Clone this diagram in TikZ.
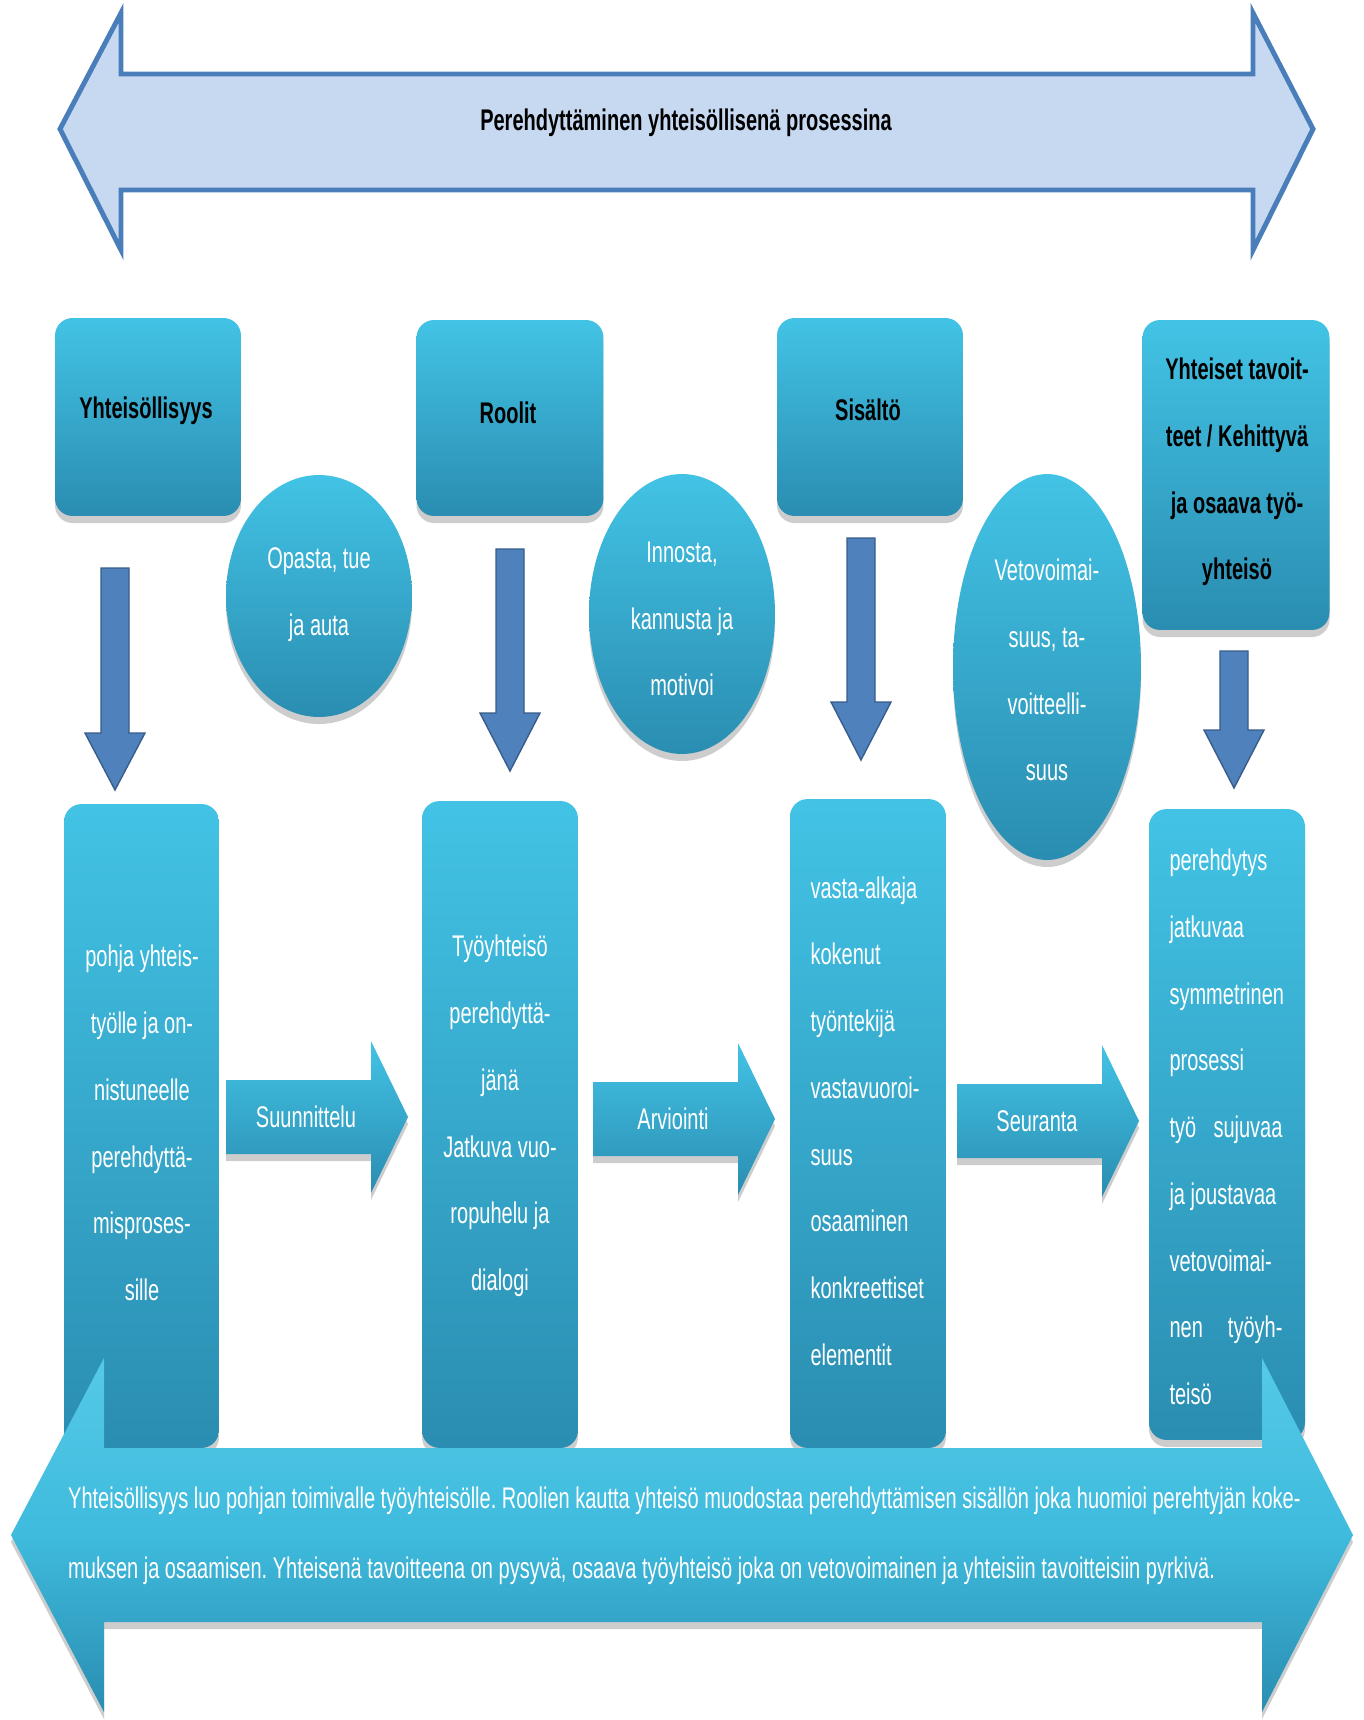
\documentclass[tikz,border=0pt]{standalone}
\usepackage{fontspec}
\setmainfont{Liberation Sans}[FakeStretch=0.67]
\usetikzlibrary{shapes.geometric,shadows}
\definecolor{cyL}{HTML}{42C3E5}
\definecolor{cyD}{HTML}{2A8DB1}
\definecolor{paleblue}{HTML}{C6D9F1}
\definecolor{strokeblue}{HTML}{4A7EBB}
\definecolor{arrblue}{HTML}{4F81BD}
\definecolor{arrdark}{HTML}{385D8A}
\frenchspacing
\begin{document}
\begin{tikzpicture}[x=0.02cm,y=-0.02cm,
  shad/.style={drop shadow={shadow xshift=0pt,shadow yshift=-4pt,opacity=0.28,fill=black!70}},
  box/.style={rectangle,rounded corners=0.35cm,top color=cyL,bottom color=cyD,draw=none,shad,inner sep=0pt},
  oval/.style={ellipse,top color=cyL,bottom color=cyD,draw=none,shad,inner sep=0pt},
  hdtxt/.style={font=\fontsize{17}{38}\selectfont\bfseries,text=black,align=center},
  wtxt/.style={font=\fontsize{17}{38}\selectfont,text=white},
  dnarrow/.style={fill=arrblue,draw=arrdark,line width=0.8pt},
  rtarrow/.style={top color=cyL,bottom color=cyD,draw=none,shad},
  longarrow/.style={top color=cyL!90!white,bottom color=cyD,middle color=cyL!85!cyD,draw=none,shad},
  bigarrow/.style={fill=paleblue,draw=strokeblue,line width=2.8pt,line join=miter}]
\useasboundingbox (0,0) rectangle (1364,1720);
\fill[white] (0,0) rectangle (1364,1720);

% top double arrow
\draw[bigarrow] (60,129) -- (121,13) -- (121,74) -- (1253,74) -- (1253,13) -- (1313,129)
  -- (1253,250) -- (1253,190) -- (121,190) -- (121,250) -- cycle;
\node[hdtxt] (title) at (686,123) {Perehdyttäminen yhteisöllisenä prosessina};

% top boxes
\node[box,minimum width=3.72cm,minimum height=3.96cm] (b1) at (148,417) {};
\node[hdtxt] (t1) at (146,411) {Yhteisöllisyys};
\node[box,minimum width=3.74cm,minimum height=3.92cm] (b2) at (510,418) {};
\node[hdtxt] (t2) at (508,413) {Roolit};
\node[box,minimum width=3.72cm,minimum height=3.96cm] (b3) at (870,417) {};
\node[hdtxt] (t3) at (868,410) {Sisältö};
\node[box,minimum width=3.74cm,minimum height=6.20cm] (b4) at (1236,475) {};
\node[hdtxt] (t4) at (1237,472) {Yhteiset tavoit-\\teet / Kehittyvä\\ja osaava työ-\\yhteisö};

% circles
\node[oval,minimum width=3.72cm,minimum height=4.84cm] (c1) at (319,596) {};
\node[wtxt,align=center] (ct1) at (319,595) {Opasta, tue\\ja auta};
\node[oval,minimum width=3.72cm,minimum height=5.60cm] (c2) at (682,614) {};
\node[wtxt,align=center] (ct2) at (682,619) {Innosta,\\kannusta ja\\motivoi};
\node[oval,minimum width=3.76cm,minimum height=7.72cm] (c3) at (1047,667) {};
\node[wtxt,align=center] (ct3) at (1047,670) {Vetovoimai-\\suus, ta-\\voitteelli-\\suus};

% down arrows
\foreach \cx/\ty/\hb/\tp in {115/568/733/790, 510/549/713/771, 861/538/702/760, 1234/651/730/788}
  \draw[dnarrow] (\cx-14,\ty) -- (\cx+14,\ty) -- (\cx+14,\hb) -- (\cx+30,\hb) -- (\cx,\tp)
    -- (\cx-30,\hb) -- (\cx-14,\hb) -- cycle;

% bottom boxes
\node[box,minimum width=3.10cm,minimum height=12.88cm] (d1) at (141.5,1126) {};
\node[wtxt,align=center] (dt1) at (142,1123) {pohja yhteis-\\työlle ja on-\\nistuneelle\\perehdyttä-\\misproses-\\sille};
\node[box,minimum width=3.12cm,minimum height=12.94cm] (d2) at (500,1124.5) {};
\node[wtxt,align=center] (dt2) at (500,1116) {Työyhteisö\\perehdyttä-\\jänä\\Jatkuva vuo-\\ropuhelu ja\\dialogi};
\node[box,minimum width=3.12cm,minimum height=12.98cm] (d3) at (868,1123.5) {};
\node[wtxt,align=flush left,text width=2.3cm] (dt3) at (868,1121) {vasta-alkaja\\kokenut\\työntekijä\\vastavuoroi-\\suus\\osaaminen\\konkreettiset\\elementit};
\node[box,minimum width=3.12cm,minimum height=12.62cm] (d4) at (1227,1124.5) {};
\node[wtxt,align=flush left,text width=2.26cm] (dt4) at (1226,1127) {perehdytys\\jatkuvaa\\symmetrinen\\prosessi\\työ\hfill sujuvaa\\ja joustavaa\\vetovoimai-\\nen\hfill työyh-\\teisö};

% right arrows
\foreach \sx/\cy/\nm/\lab in {226/1117/r1/Suunnittelu, 593/1119/r2/Arviointi, 957/1121/r3/Seuranta}{
  \path[rtarrow] (\sx,\cy-37) -- (\sx+145,\cy-37) -- (\sx+145,\cy-76) -- (\sx+182,\cy)
    -- (\sx+145,\cy+76) -- (\sx+145,\cy+37) -- (\sx,\cy+37) -- cycle;
  \node[wtxt] (\nm) at (\sx+80,\cy) {\lab};
}

% bottom double arrow
\path[longarrow] (11,1535) -- (104,1358) -- (104,1448) -- (1262,1448) -- (1262,1358) -- (1353,1535)
  -- (1262,1712) -- (1262,1622) -- (104,1622) -- (104,1712) -- cycle;
\node[wtxt,align=flush left,anchor=west,font=\fontsize{17}{40}\selectfont] (summary) at (62,1536)
  {Yhteisöllisyys luo pohjan toimivalle työyhteisölle. Roolien kautta yhteisö muodostaa perehdyttämisen sisällön joka huomioi perehtyjän koke-\\muksen ja osaamisen. Yhteisenä tavoitteena on pysyvä, osaava työyhteisö joka on vetovoimainen ja yhteisiin tavoitteisiin pyrkivä.};
\end{tikzpicture}
\end{document}
